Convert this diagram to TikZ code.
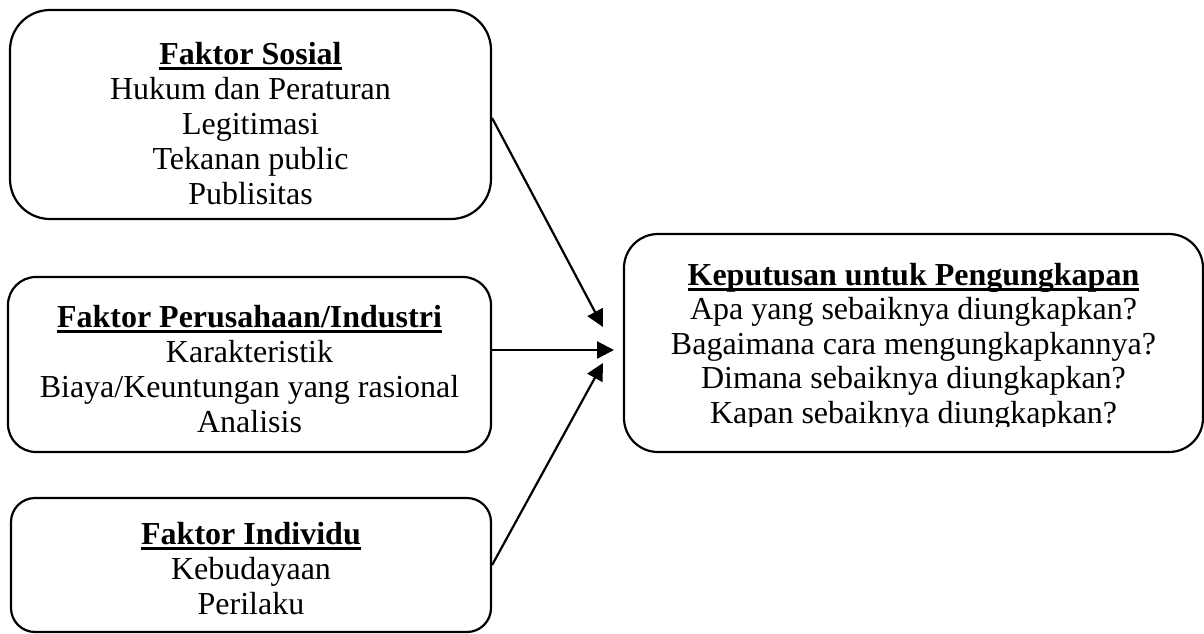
\documentclass[tikz,border=0pt]{standalone}
\usepackage{fontspec}
\setmainfont{Liberation Serif}
\usetikzlibrary{positioning,arrows.meta}
\newcommand{\judul}[1]{\setbox0=\hbox{\bfseries #1}\leavevmode\rlap{\rule[-2.6pt]{\wd0}{1.4pt}}\box0}
\begin{document}
\begin{tikzpicture}[x=0.5pt,y=-0.5pt,
  every node/.style={font=\fontsize{16}{17.5}\selectfont},
  kotak/.style={draw,line width=1.1pt,inner sep=0pt},
  isi/.style={align=center,inner sep=0pt},
  e/.style={-{Triangle[length=8.5pt,width=8.5pt]},line width=1.1pt}]
  \useasboundingbox (0,0) rectangle (1204,633);
  \node[kotak,rounded corners=20pt,minimum width=240.5pt,minimum height=104.5pt] (sosial) at (250.5,114.5) {};
  \node[kotak,rounded corners=14pt,minimum width=241.5pt,minimum height=87.5pt] (usaha) at (249.5,364.5) {};
  \node[kotak,rounded corners=12pt,minimum width=240pt,minimum height=67pt] (individu) at (251,565) {};
  \node[kotak,rounded corners=17pt,minimum width=289.5pt,minimum height=109pt] (keputusan) at (913.5,343) {};
  \node[isi,below=16.5pt of sosial.north] (tsosial) {\judul{Faktor Sosial}\\Hukum dan Peraturan\\Legitimasi\\Tekanan public\\Publisitas};
  \node[isi,below=14.5pt of usaha.north] (tusaha) {\judul{Faktor Perusahaan/Industri}\\Karakteristik\\Biaya/Keuntungan yang rasional\\Analisis};
  \node[isi,below=12.5pt of individu.north] (tindividu) {\judul{Faktor Individu}\\Kebudayaan\\Perilaku};
  \begin{scope}
    \clip (624,234) rectangle (1203,426.5);
    \node[isi,font=\fontsize{16}{17.2}\selectfont,below=15pt of keputusan.north] (tkeputusan) {\judul{Keputusan untuk Pengungkapan}\\Apa yang sebaiknya diungkapkan?\\Bagaimana cara mengungkapkannya?\\Dimana sebaiknya diungkapkan?\\Kapan sebaiknya diungkapkan?};
  \end{scope}
  \coordinate (t1) at (603,327);
  \coordinate (t2) at (614,350);
  \coordinate (t3) at (603,363);
  \draw[e] ([yshift=-1.75pt]sosial.east) -- (t1);
  \draw[e] (usaha.east |- t2) -- (t2);
  \draw[e] (individu.east) -- (t3);
\end{tikzpicture}
\end{document}
